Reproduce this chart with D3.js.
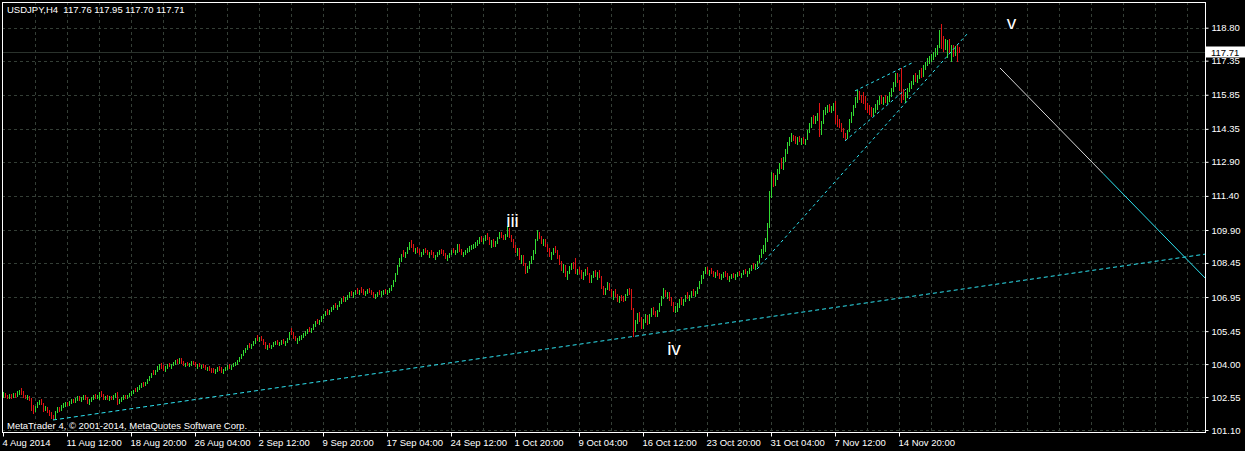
<!DOCTYPE html>
<html><head><meta charset="utf-8">
<script src="https://cdn.jsdelivr.net/npm/d3@7"></script>
<style>
html,body{margin:0;padding:0;background:#000;}
svg{display:block;}
text{font-family:"Liberation Sans",Arial,sans-serif;}
</style>
</head><body>
<svg id="c" width="1245" height="451"></svg>
<script>
const chartTitle = "USDJPY,H4  117.76 117.95 117.70 117.71";
const copyrightText = "MetaTrader 4, \u00a9 2001-2014, MetaQuotes Software Corp.";
const firstOpen = 102.58;
const lastPrice = 117.71;

const high = [
102.75,102.72,102.66,102.70,102.68,102.74,102.72,102.80,102.88,102.95,
102.80,102.66,102.62,102.60,102.50,102.20,102.15,102.35,102.42,102.45,
102.30,102.15,102.12,101.98,101.90,101.78,101.95,102.12,102.10,102.18,
102.28,102.32,102.35,102.38,102.45,102.48,102.52,102.58,102.60,102.55,
102.62,102.64,102.55,102.45,102.55,102.62,102.68,102.66,102.75,102.80,
102.68,102.60,102.62,102.58,102.60,102.62,102.74,102.78,102.45,102.55,
102.62,102.64,102.66,102.72,102.80,102.88,102.95,102.98,103.08,103.15,
103.20,103.22,103.35,103.48,103.62,103.72,103.75,103.90,104.00,104.05,
103.95,103.90,104.00,104.05,104.02,104.10,104.18,104.24,104.28,104.25,
104.12,104.05,104.10,104.06,104.12,104.15,104.08,104.00,104.05,103.98,
104.02,103.95,103.88,103.90,103.84,103.82,103.78,103.85,103.90,103.86,
103.80,103.88,103.95,104.00,103.96,104.05,104.10,104.18,104.30,104.45,
104.60,104.72,104.85,104.92,104.88,105.00,105.15,105.28,105.20,105.25,
105.10,104.95,104.85,104.92,104.86,104.95,105.02,105.06,104.98,105.05,
105.10,105.02,105.15,105.40,105.60,105.42,105.25,105.15,105.22,105.30,
105.38,105.45,105.55,105.62,105.60,105.75,105.88,105.98,105.95,106.10,
106.22,106.35,106.42,106.38,106.50,106.62,106.70,106.62,106.78,106.90,
107.00,106.95,107.05,107.15,107.22,107.15,107.25,107.35,107.28,107.38,
107.30,107.22,107.30,107.35,107.28,107.18,107.10,107.18,107.25,107.20,
107.28,107.32,107.25,107.35,107.48,107.70,108.00,108.35,108.65,108.85,
109.00,108.95,109.15,109.35,109.45,109.30,109.10,109.15,109.05,108.95,
109.05,109.12,109.02,108.92,109.00,108.92,108.82,108.92,109.02,109.08,
109.00,108.88,108.80,108.90,109.02,109.10,109.02,109.30,109.28,109.05,
108.95,109.02,109.12,109.18,109.25,109.30,109.38,109.45,109.60,109.65,
109.55,109.70,109.75,109.58,109.45,109.50,109.42,109.60,109.80,109.82,
109.70,109.72,110.08,110.00,109.70,109.50,109.25,109.10,109.12,108.80,
108.78,108.45,108.30,108.55,108.75,109.00,109.50,109.92,109.82,109.65,
109.50,109.52,109.30,109.10,108.95,109.10,109.20,109.00,108.80,108.55,
108.40,108.35,108.10,108.30,108.45,108.50,108.68,108.20,108.25,108.15,
108.05,108.20,108.25,108.02,107.90,108.10,108.15,108.05,108.12,107.88,
107.45,107.35,107.62,107.58,107.32,107.20,107.30,107.08,107.00,107.05,
107.00,107.10,107.30,107.35,107.32,106.45,105.95,106.25,106.30,106.05,
106.00,106.20,106.15,106.20,106.45,106.50,106.35,106.40,106.70,107.00,
107.35,107.25,107.18,107.15,106.95,106.75,106.55,106.70,106.85,106.95,
106.88,107.05,107.15,107.05,107.20,107.30,107.20,107.40,107.65,107.90,
108.10,108.25,108.28,108.15,108.22,108.10,108.05,108.12,108.02,107.95,
108.05,108.10,108.00,107.88,107.98,108.02,107.95,108.05,108.10,108.02,
108.12,108.20,108.10,108.22,108.35,108.45,108.40,108.55,108.80,109.05,
109.25,109.55,110.20,111.60,112.45,112.40,112.30,112.60,112.85,113.05,
113.10,113.45,113.75,114.00,114.15,114.10,114.05,113.98,114.05,113.95,
114.00,113.92,114.30,114.60,114.85,114.95,114.90,115.05,115.48,114.70,
115.20,115.30,115.40,115.45,115.35,115.50,115.58,114.95,114.80,114.62,
114.40,114.15,114.30,114.80,115.10,115.40,115.75,116.06,116.00,115.85,
115.95,115.80,115.50,115.40,115.30,115.25,115.45,115.62,115.78,115.82,
115.75,115.85,115.78,115.95,116.15,116.40,116.80,116.82,116.48,117.02,
116.10,115.95,116.15,116.35,116.45,116.70,116.80,116.72,116.95,117.02,
117.15,117.30,117.45,117.55,117.65,117.75,117.90,118.05,118.70,118.95,
118.45,118.30,118.25,118.30,118.05,118.05,118.00,118.10,117.95
];
const low = [
102.52,102.50,102.45,102.48,102.47,102.52,102.50,102.56,102.62,102.65,
102.52,102.45,102.40,102.36,101.95,101.80,101.88,102.05,102.20,102.18,
101.90,101.92,101.85,101.72,101.60,101.52,101.58,101.85,101.90,101.92,
102.05,102.12,102.15,102.16,102.25,102.28,102.30,102.38,102.36,102.35,
102.40,102.42,102.25,102.22,102.35,102.42,102.45,102.46,102.40,102.55,
102.42,102.40,102.42,102.38,102.40,102.42,102.52,102.20,102.25,102.35,
102.42,102.45,102.45,102.55,102.60,102.68,102.75,102.76,102.88,102.95,
103.00,103.02,103.12,103.25,103.38,103.50,103.50,103.65,103.75,103.80,
103.70,103.65,103.78,103.85,103.80,103.90,103.95,104.02,104.00,104.02,
103.90,103.85,103.90,103.85,103.92,103.95,103.88,103.80,103.85,103.78,
103.82,103.72,103.68,103.70,103.62,103.60,103.58,103.65,103.70,103.62,
103.58,103.68,103.75,103.80,103.76,103.85,103.90,103.98,104.08,104.22,
104.35,104.48,104.60,104.70,104.65,104.78,104.90,105.02,104.95,105.00,
104.82,104.68,104.62,104.70,104.65,104.75,104.82,104.85,104.78,104.85,
104.88,104.80,104.92,105.05,105.28,105.10,105.00,104.90,105.02,105.08,
105.15,105.22,105.32,105.40,105.38,105.50,105.62,105.75,105.72,105.85,
105.98,106.10,106.18,106.15,106.28,106.38,106.45,106.40,106.52,106.65,
106.75,106.72,106.82,106.92,107.00,106.92,107.02,107.10,107.05,107.12,
107.05,106.98,107.08,107.12,107.02,106.92,106.88,106.95,107.02,106.95,
107.05,107.08,107.02,107.12,107.22,107.40,107.60,107.90,108.25,108.50,
108.70,108.65,108.85,109.02,109.10,108.95,108.85,108.90,108.80,108.72,
108.82,108.90,108.78,108.68,108.78,108.65,108.58,108.70,108.80,108.85,
108.75,108.62,108.52,108.68,108.78,108.88,108.78,108.90,108.95,108.80,
108.72,108.80,108.90,108.95,109.02,109.05,109.12,109.20,109.30,109.35,
109.28,109.40,109.45,109.22,109.12,109.15,109.15,109.30,109.50,109.55,
109.45,109.48,109.60,109.55,109.35,109.10,108.90,108.75,108.60,108.40,
108.30,107.95,108.00,108.20,108.40,108.60,108.85,109.40,109.50,109.30,
109.20,109.15,108.95,108.72,108.60,108.80,108.90,108.62,108.35,108.10,
108.00,107.85,107.72,107.95,108.15,108.20,107.95,107.90,107.95,107.75,
107.70,107.88,107.90,107.55,107.55,107.78,107.85,107.72,107.80,107.30,
107.05,107.02,107.25,107.20,106.95,106.80,106.95,106.72,106.70,106.78,
106.75,106.78,106.98,107.05,106.40,105.20,105.40,105.75,105.85,105.55,
105.55,105.80,105.70,105.75,106.05,106.15,106.05,106.08,106.30,106.55,
106.85,106.95,106.85,106.78,106.55,106.28,106.25,106.30,106.45,106.60,
106.55,106.75,106.85,106.78,106.92,107.00,106.95,107.10,107.30,107.52,
107.75,107.95,107.95,107.88,107.95,107.82,107.80,107.88,107.75,107.68,
107.80,107.85,107.70,107.62,107.75,107.78,107.70,107.82,107.88,107.80,
107.90,107.98,107.85,107.98,108.10,108.20,108.15,108.25,108.45,108.65,
108.85,108.95,109.35,110.00,111.30,111.80,111.85,112.10,112.35,112.60,
112.55,112.90,113.25,113.60,113.78,113.80,113.70,113.65,113.75,113.62,
113.70,113.62,113.85,114.15,114.40,114.55,114.55,114.70,114.00,114.10,
114.55,114.95,115.05,115.10,115.05,115.15,114.55,114.45,114.40,114.20,
113.95,113.85,113.90,114.20,114.60,114.90,115.25,115.50,115.60,115.50,
115.45,115.20,115.05,114.95,114.88,114.90,115.05,115.20,115.40,115.45,
115.40,115.50,115.45,115.55,115.75,115.95,116.20,116.35,116.00,115.50,
115.60,115.50,115.70,115.95,116.10,116.30,116.40,116.35,116.55,116.60,
116.65,116.95,117.10,117.20,117.30,117.40,117.50,117.60,117.90,117.85,
117.72,117.80,117.48,117.70,117.30,117.50,117.55,117.30,117.70
];
const close = [
102.70,102.55,102.50,102.65,102.52,102.70,102.58,102.76,102.84,102.72,
102.58,102.50,102.55,102.40,102.00,101.92,102.10,102.30,102.38,102.25,
101.98,102.10,101.90,101.80,101.66,101.60,101.90,102.05,101.95,102.12,
102.22,102.28,102.20,102.33,102.40,102.32,102.48,102.52,102.42,102.50,
102.55,102.48,102.30,102.40,102.50,102.58,102.52,102.62,102.70,102.60,
102.48,102.55,102.46,102.52,102.45,102.58,102.70,102.28,102.40,102.50,
102.58,102.50,102.62,102.68,102.76,102.84,102.80,102.94,103.04,103.10,
103.06,103.18,103.30,103.44,103.58,103.55,103.70,103.85,103.92,103.85,
103.78,103.85,103.95,103.90,103.98,104.05,104.12,104.08,104.20,104.05,
103.96,104.00,103.95,104.02,104.08,104.00,103.92,103.95,103.88,103.92,
103.86,103.78,103.82,103.74,103.70,103.66,103.72,103.80,103.76,103.68,
103.75,103.84,103.90,103.85,103.92,104.00,104.06,104.14,104.26,104.40,
104.55,104.68,104.80,104.75,104.84,104.96,105.10,105.08,105.15,105.05,
104.88,104.75,104.80,104.74,104.82,104.90,104.96,104.90,104.94,105.00,
104.95,104.98,105.10,105.35,105.32,105.15,105.05,105.10,105.18,105.26,
105.33,105.40,105.50,105.45,105.56,105.70,105.84,105.80,105.90,106.05,
106.18,106.30,106.24,106.34,106.46,106.58,106.50,106.58,106.74,106.85,
106.80,106.90,107.00,107.10,107.05,107.10,107.20,107.15,107.22,107.18,
107.10,107.16,107.25,107.18,107.08,107.00,107.05,107.12,107.08,107.15,
107.22,107.12,107.20,107.30,107.44,107.65,107.95,108.30,108.60,108.80,
108.75,108.90,109.10,109.30,109.15,109.00,109.05,108.95,108.85,108.90,
109.00,108.95,108.82,108.88,108.84,108.72,108.78,108.88,108.96,108.90,
108.80,108.70,108.75,108.85,108.96,108.92,108.98,109.22,109.00,108.85,
108.90,108.98,109.05,109.10,109.20,109.25,109.32,109.40,109.55,109.42,
109.50,109.65,109.50,109.30,109.40,109.20,109.38,109.55,109.75,109.60,
109.52,109.68,110.00,109.62,109.42,109.18,108.98,109.02,108.68,108.72,
108.35,108.05,108.25,108.50,108.68,108.90,109.45,109.80,109.55,109.38,
109.45,109.20,109.00,108.80,108.90,109.05,108.95,108.70,108.42,108.20,
108.30,107.92,108.02,108.25,108.38,108.28,108.02,108.12,108.00,107.82,
108.00,108.12,107.95,107.62,107.85,108.05,107.90,108.00,107.85,107.35,
107.10,107.30,107.55,107.25,107.02,107.12,107.00,106.80,106.95,106.85,
106.80,107.05,107.25,107.15,106.48,105.35,105.85,106.15,105.92,105.62,
105.90,106.10,105.78,106.12,106.40,106.22,106.12,106.35,106.65,106.92,
107.20,107.05,107.10,106.85,106.62,106.35,106.48,106.62,106.78,106.70,
106.82,107.00,106.92,107.00,107.15,107.08,107.15,107.35,107.60,107.85,
108.05,108.15,108.02,108.10,108.00,107.90,108.00,107.95,107.82,107.90,
108.00,107.92,107.75,107.82,107.92,107.85,107.90,108.00,107.95,107.98,
108.08,108.02,108.05,108.18,108.30,108.28,108.35,108.50,108.75,108.95,
109.10,109.45,110.10,111.50,112.20,111.95,112.25,112.50,112.78,112.70,
113.02,113.38,113.68,113.95,114.05,113.88,113.82,113.90,113.82,113.88,
113.78,113.85,114.25,114.52,114.78,114.68,114.85,114.98,114.20,114.62,
115.10,115.22,115.30,115.18,115.28,115.40,114.65,114.55,114.48,114.28,
114.05,113.95,114.25,114.72,115.02,115.32,115.68,115.95,115.72,115.62,
115.55,115.28,115.15,115.05,115.00,115.18,115.38,115.55,115.70,115.52,
115.65,115.58,115.72,115.88,116.08,116.32,116.72,116.45,116.10,115.70,
115.68,115.88,116.05,116.28,116.38,116.62,116.50,116.65,116.88,116.70,
117.05,117.22,117.38,117.48,117.58,117.68,117.82,117.98,118.60,117.95,
117.85,117.95,118.10,117.85,117.95,117.62,117.90,117.76,117.71
];

const priceTicks = [118.80,117.35,115.85,114.35,112.90,111.40,109.90,108.45,106.95,105.45,104.00,102.55,101.10];
const timeLabels = ["4 Aug 2014","11 Aug 12:00","18 Aug 20:00","26 Aug 04:00","2 Sep 12:00","9 Sep 20:00","17 Sep 04:00","24 Sep 12:00","1 Oct 20:00","9 Oct 04:00","16 Oct 12:00","23 Oct 20:00","31 Oct 04:00","7 Nov 12:00","14 Nov 20:00"];
const barsPerTimeLabel = 32;
const barsPerGridLine = 16;

// trend-line anchors: [bar index, price]
const supportLine = [[24.75,101.54],[315.25,105.22]];
const channelLines = [
  [[376.75,108.18],[482.25,118.57]],
  [[420.75,113.82],[451.25,116.10]],
  [[425.75,116.02],[454.25,117.25]]
];
const projectionLine = [[498.25,117.03],[549.75,112.39],[600.75,107.79]];
const waveText = ["iii","iv","v"];
const waveBar = [254.5,335.25,504];
const wavePrice = [110.03,104.40,118.74];

// ---------- drawing ----------
const W = 1245, H = 451;
const plotL = 2, plotT = 2, plotR = 1205, plotB = 432;
const UP = "#32dc32", DOWN = "#e01414", CYAN = "#2ee4f2", GRID = "#343e36", FG = "#ffffff";

const x = d3.scaleLinear().domain([0,1]).range([3.5,5.5]);
const y = d3.scaleLinear().domain([101.10,118.80]).range([430,27.7]);

const svg = d3.select("#c");
svg.append("rect").attr("width",W).attr("height",H).attr("fill","#000");
svg.append("clipPath").attr("id","plot").append("rect")
  .attr("x",plotL+1).attr("y",plotT+1).attr("width",plotR-plotL-1).attr("height",plotB-plotT-1);
const g = svg.append("g").attr("clip-path","url(#plot)");

// grid
g.append("g").selectAll("line").data(priceTicks).join("line")
  .attr("x1",plotL).attr("x2",plotR)
  .attr("y1",d=>Math.round(y(d))+0.5).attr("y2",d=>Math.round(y(d))+0.5)
  .attr("stroke",GRID).attr("stroke-dasharray","3,3");
const gridBars = d3.range(barsPerGridLine, x.invert(plotR), barsPerGridLine);
g.append("g").selectAll("line").data(gridBars).join("line")
  .attr("x1",d=>x(d)).attr("x2",d=>x(d))
  .attr("y1",plotT).attr("y2",plotB)
  .attr("stroke",GRID).attr("stroke-dasharray","3,3");

// bid line
const yBid = Math.round(y(lastPrice))+0.5;
g.append("line").attr("x1",plotL).attr("x2",plotR).attr("y1",yBid).attr("y2",yBid)
  .attr("stroke","#2a322c").attr("stroke-width",1);

// bars
const bars = high.map((h,i)=>({i, h, l:low[i], c:close[i], o: i ? close[i-1] : firstOpen}));
g.append("g").attr("shape-rendering","crispEdges").selectAll("rect").data(bars).join("rect")
  .attr("x",d=>x(d.i)-0.5).attr("width",1)
  .attr("y",d=>y(d.h)).attr("height",d=>Math.max(1,y(d.l)-y(d.h)))
  .attr("fill",d=>d.c>=d.o?UP:DOWN);

// trend lines
const line = d3.line().x(d=>x(d[0])).y(d=>y(d[1]));
function priceOn(a,b,i){ return a[1]+(b[1]-a[1])*(i-a[0])/(b[0]-a[0]); }
const rayEnd = x.invert(plotR);
const supportRay = [supportLine[0],[rayEnd, priceOn(supportLine[0],supportLine[1],rayEnd)]];
g.append("path").attr("d",line(supportRay)).attr("fill","none")
  .attr("stroke",CYAN).attr("stroke-width",1).attr("stroke-dasharray","4,3");
g.append("g").selectAll("path").data(channelLines).join("path")
  .attr("d",d=>line(d)).attr("fill","none")
  .attr("stroke",CYAN).attr("stroke-width",1).attr("stroke-dasharray","3,3");
g.append("path").attr("d",line(projectionLine.slice(0,2))).attr("fill","none")
  .attr("stroke","#d8d8d8").attr("stroke-width",1);
g.append("path").attr("d",line(projectionLine.slice(1))).attr("fill","none")
  .attr("stroke",CYAN).attr("stroke-width",1);

// wave labels
g.append("g").selectAll("text").data(waveText).join("text")
  .attr("x",(d,k)=>x(waveBar[k])).attr("y",(d,k)=>y(wavePrice[k]))
  .attr("text-anchor","middle").attr("fill",FG).style("font-size","19px")
  .text(d=>d);

// frame
svg.append("rect").attr("x",plotL+0.5).attr("y",plotT+0.5)
  .attr("width",plotR-plotL).attr("height",plotB-plotT)
  .attr("fill","none").attr("stroke",FG).attr("stroke-width",1);

// price axis
const ay = d3.axisRight(y).tickValues(priceTicks).tickFormat(d3.format(".2f")).tickSize(3).tickPadding(3);
const gy = svg.append("g").attr("transform",`translate(${plotR+0.5},0)`).call(ay);
gy.select(".domain").remove();
gy.selectAll("line").attr("stroke",FG);
gy.selectAll("text").attr("fill",FG).style("font-size","9.5px")
  .style("font-family",'"Liberation Sans",Arial,sans-serif');

// time axis
const tickBars = timeLabels.map((_,k)=>k*barsPerTimeLabel);
const ax = d3.axisBottom(x).tickValues(tickBars).tickFormat((d,k)=>timeLabels[k]).tickSize(4).offset(0);
const gx = svg.append("g").attr("transform",`translate(0,${plotB+0.5})`).call(ax);
gx.select(".domain").remove();
gx.selectAll("line").attr("stroke",FG);
gx.selectAll("text").attr("fill",FG).attr("text-anchor","start")
  .attr("x",-1).attr("y",13.5).attr("dy",0).style("font-size","9.5px")
  .style("font-family",'"Liberation Sans",Arial,sans-serif');

// current price box
const yb = y(lastPrice);
svg.append("rect").attr("x",plotR+1).attr("y",Math.round(yb)-5.5).attr("width",W-plotR-1).attr("height",11).attr("fill","#fff");
svg.append("text").attr("x",plotR+6).attr("y",yb).attr("dy","0.35em").attr("fill","#000")
  .style("font-size","9.5px").text(d3.format(".2f")(lastPrice));

// title & copyright
svg.append("text").attr("x",7).attr("y",13.3).attr("fill",FG).style("font-size","9.5px")
  .style("white-space","pre").attr("xml:space","preserve").text(chartTitle);
svg.append("text").attr("x",7).attr("y",429).attr("fill",FG).style("font-size","9.5px")
  .text(copyrightText);
</script>
</body></html>
